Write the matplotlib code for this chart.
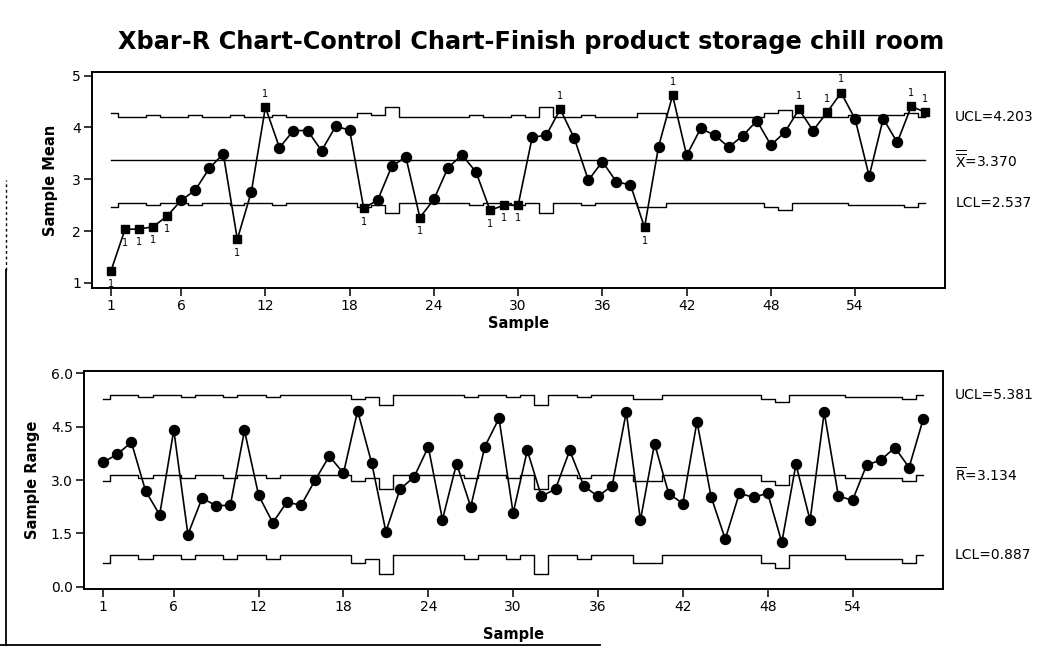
import numpy as np
import matplotlib
matplotlib.use("Agg")
import matplotlib.pyplot as plt
from matplotlib.lines import Line2D
import matplotlib.transforms as mtransforms

plt.rcParams['font.family'] = ['DejaVu Sans']
plt.rcParams['mathtext.fontset'] = 'dejavusans'

# ---------------- data ----------------
samples = list(range(1, 60))

xbar = [1.23, 2.03, 2.04, 2.08, 2.29, 2.59, 2.79, 3.21, 3.49, 1.84,
        2.76, 4.39, 3.61, 3.94, 3.94, 3.55, 4.02, 3.95, 2.44, 2.60,
        3.25, 3.43, 2.26, 2.61, 3.22, 3.47, 3.14, 2.40, 2.50, 2.50,
        3.81, 3.85, 4.35, 3.79, 2.98, 3.34, 2.95, 2.89, 2.07, 3.63,
        4.62, 3.46, 3.98, 3.85, 3.62, 3.84, 4.13, 3.66, 3.91, 4.35,
        3.94, 4.29, 4.67, 4.16, 3.06, 4.17, 3.71, 4.41, 4.29]

ranges = [3.50, 3.72, 4.06, 2.70, 2.02, 4.40, 1.47, 2.49, 2.28, 2.29,
          4.39, 2.57, 1.80, 2.38, 2.29, 3.00, 3.67, 3.19, 4.94, 3.47,
          1.55, 2.74, 3.09, 3.93, 1.89, 3.46, 2.25, 3.94, 4.73, 2.07,
          3.83, 2.54, 2.75, 3.83, 2.83, 2.54, 2.84, 4.91, 1.87, 4.02,
          2.62, 2.34, 4.64, 2.53, 1.34, 2.63, 2.51, 2.63, 1.25, 3.44,
          1.87, 4.90, 2.55, 2.43, 3.42, 3.56, 3.91, 3.35, 4.71]

subgroup_n = [10, 12, 12, 11, 12, 12, 11, 12, 12, 11,
              12, 12, 11, 12, 12, 12, 12, 12, 10, 11,
              8, 12, 12, 12, 12, 12, 11, 12, 12, 11,
              12, 8, 12, 12, 11, 12, 12, 12, 10, 10,
              12, 12, 12, 12, 12, 12, 12, 10, 9, 12,
              12, 12, 12, 11, 11, 11, 11, 10, 12]

# samples failing test 1 on the Xbar chart
xbar_flagged = [1, 2, 3, 4, 5, 10, 12, 19, 23, 28, 29, 30, 33, 39, 41,
                50, 52, 53, 58, 59]

xbar_ticks = [1, 6, 12, 18, 24, 30, 36, 42, 48, 54]
mean_yticks = [1, 2, 3, 4, 5]
range_yticks = [0.0, 1.5, 3.0, 4.5, 6.0]

grand_mean = 3.370
rbar_label = 3.134
title = "Xbar-R Chart-Control Chart-Finish product storage chill room"

# control chart constants
d2 = {8: 2.847, 9: 2.970, 10: 3.078, 11: 3.173, 12: 3.258}
d3 = {8: 0.820, 9: 0.808, 10: 0.797, 11: 0.787, 12: 0.778}
sigma = rbar_label / d2[12]

x = np.array(samples)
nn = np.array(subgroup_n)
hw = 3 * sigma / np.sqrt(nn)
xucl = grand_mean + hw
xlcl = grand_mean - hw
xcl = np.full(len(x), grand_mean)
rcl = np.array([d2[k] for k in subgroup_n]) * sigma
rsd = np.array([d3[k] for k in subgroup_n]) * sigma
rucl = rcl + 3 * rsd
rlcl = np.maximum(0, rcl - 3 * rsd)

# ---------------- figure ----------------
W, H = 1037, 649
fig = plt.figure(figsize=(W / 100, H / 100), dpi=100)
fig.patch.set_facecolor('white')

ax1 = fig.add_axes([92 / W, 1 - 288 / H, (945 - 92) / W, (288 - 72) / H])
ax2 = fig.add_axes([84 / W, 1 - 589 / H, (943 - 84) / W, (589 - 371) / H])

lw_lim = 1.0
for ax in (ax1, ax2):
    for s in ax.spines.values():
        s.set_linewidth(1.4)
        s.set_color('black')
    ax.tick_params(direction='out', length=5.5, width=1.1, labelsize=10,
                   colors='black', pad=2.5)
    ax.set_xlim(-0.35, 60.4)
    ax.set_xticks(xbar_ticks)

ax1.set_xlabel('Sample', fontsize=10.5, fontweight='bold', labelpad=2)
ax2.set_xlabel('Sample', fontsize=10.5, fontweight='bold', labelpad=9)

# ---- Xbar chart ----
ax1.plot(x, xucl, drawstyle='steps-mid', color='black', lw=lw_lim)
ax1.plot(x, xlcl, drawstyle='steps-mid', color='black', lw=lw_lim)
ax1.plot(x, xcl, color='black', lw=lw_lim)
ax1.plot(x, xbar, color='black', lw=1.2, zorder=3)
xb = np.array(xbar)
flag_mask = np.isin(x, xbar_flagged)
ax1.plot(x[~flag_mask], xb[~flag_mask], 'o', color='black', ms=7.2, zorder=4)
ax1.plot(x[flag_mask], xb[flag_mask], 's', color='black', ms=6.0, zorder=4)
for s in xbar_flagged:
    v = xbar[s - 1]
    if v > grand_mean:
        ax1.annotate('1', (s, v), xytext=(0, 6), textcoords='offset points',
                     ha='center', va='bottom', fontsize=7)
    else:
        ax1.annotate('1', (s, v), xytext=(0, -6), textcoords='offset points',
                     ha='center', va='top', fontsize=7)
ax1.set_ylim(0.9, 5.07)
ax1.set_yticks(mean_yticks)
ax1.set_ylabel('Sample Mean', fontsize=10.5, fontweight='bold', labelpad=10)

tr1 = mtransforms.blended_transform_factory(ax1.transAxes, ax1.transData)
ax1.text(1.012, xucl[-1], 'UCL=4.203', transform=tr1, va='center', ha='left', fontsize=10)
ax1.text(1.012, grand_mean, r'$\overline{\overline{\mathrm{X}}}$=3.370', transform=tr1,
         va='center', ha='left', fontsize=10)
ax1.text(1.012, xlcl[-1], 'LCL=2.537', transform=tr1, va='center', ha='left', fontsize=10)

# ---- R chart ----
ax2.plot(x, rucl, drawstyle='steps-mid', color='black', lw=lw_lim)
ax2.plot(x, rlcl, drawstyle='steps-mid', color='black', lw=lw_lim)
ax2.plot(x, rcl, drawstyle='steps-mid', color='black', lw=lw_lim)
ax2.plot(x, ranges, 'o-', color='black', lw=1.2, ms=7.2, zorder=4)
ax2.set_ylim(-0.06, 6.06)
ax2.set_yticks(range_yticks)
ax2.set_yticklabels([f'{v:.1f}' for v in range_yticks])
ax2.set_ylabel('Sample Range', fontsize=10.5, fontweight='bold', labelpad=8)

tr2 = mtransforms.blended_transform_factory(ax2.transAxes, ax2.transData)
ax2.text(1.014, rucl[-1], 'UCL=5.381', transform=tr2, va='center', ha='left', fontsize=10)
ax2.text(1.014, rcl[-1], r'$\overline{\mathrm{R}}$=3.134', transform=tr2,
         va='center', ha='left', fontsize=10)
ax2.text(1.014, rlcl[-1], 'LCL=0.887', transform=tr2, va='center', ha='left', fontsize=10)

# ---- title ----
fig.text(531 / W, 1 - 42 / H, title, ha='center', va='center',
         fontsize=17.3, fontweight='bold')

# ---- page border remnants ----
fig.add_artist(Line2D([6 / W, 6 / W], [4 / H, 1 - 270 / H], transform=fig.transFigure,
                      color='black', lw=1.3))
fig.add_artist(Line2D([6 / W, 6 / W], [1 - 270 / H, 1 - 180 / H], transform=fig.transFigure,
                      color='black', lw=1.0, ls=(0, (2, 2))))
fig.add_artist(Line2D([0, 600 / W], [4 / H, 4 / H], transform=fig.transFigure,
                      color='black', lw=1.3))

fig.savefig('out.png', dpi=100, facecolor='white')
